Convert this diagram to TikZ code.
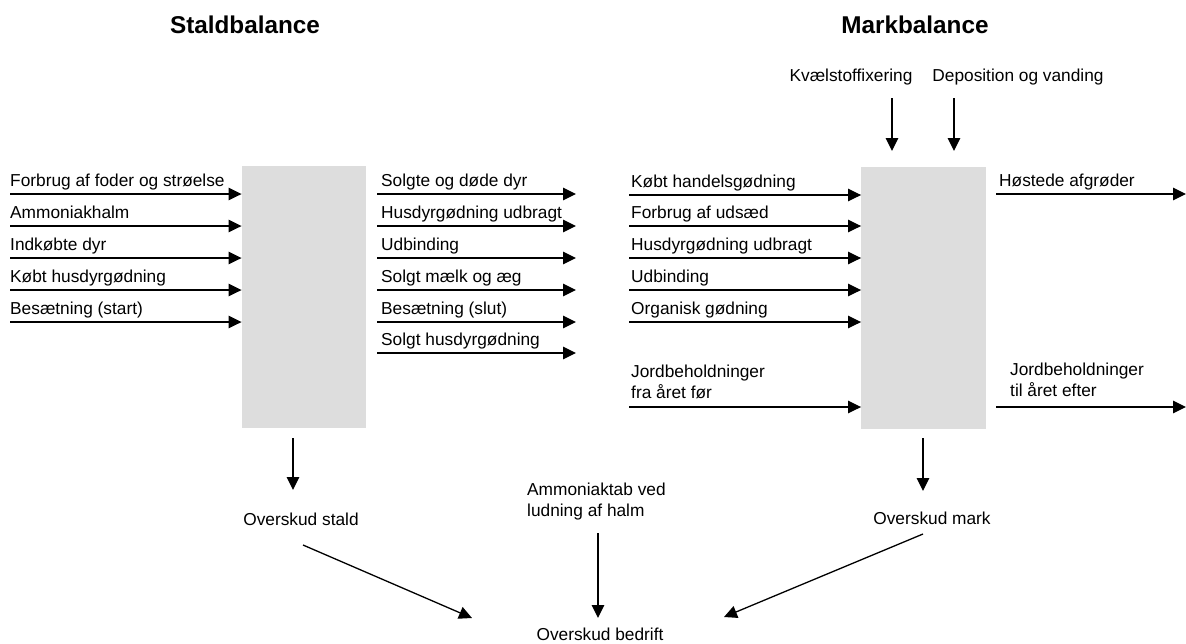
\documentclass[tikz,border=0pt]{standalone}
\usepackage{fontspec}
\setmainfont{Liberation Sans}
\usetikzlibrary{arrows.meta,positioning}
\definecolor{boxgray}{RGB}{221,221,221}
\tikzset{%
	balance/.style   = {fill=boxgray, rectangle, minimum width=124.5pt, minimum height=262pt, inner sep=0pt}, % Box
	flowlabel/.style = {anchor=base west, inner sep=0pt, align=left, font=\fontsize{17.3}{21}\selectfont}, % Text
	sumlabel/.style  = {anchor=base, inner sep=0pt, font=\fontsize{17.3}{21}\selectfont}, % Centered text
	heading/.style   = {anchor=base, inner sep=0pt, font=\fontsize{24.3}{28}\selectfont\bfseries}, % Title
	flow/.style      = {line width=1.3pt, -{Triangle[length=13pt,width=12.5pt]}},
}

\begin{document}
\begin{tikzpicture}[x=1pt,y=-1pt]
	\useasboundingbox (0,0) rectangle (1186,643);
	\node [heading] (tstald) at (245,33) {Staldbalance};
	\node [heading] (tmark) at (915,33) {Markbalance};
	\node [balance] (stald) at (304,296.5) {};
	\node [balance] (mark) at (923.5,297.5) {};
	
	% stald in
	\node [flowlabel] (si1) at (10,186) {Forbrug af foder og strøelse};
	\node [flowlabel] (si2) at (10,218) {Ammoniakhalm};
	\node [flowlabel] (si3) at (10,250) {Indkøbte dyr};
	\node [flowlabel] (si4) at (10,282) {Købt husdyrgødning};
	\node [flowlabel] (si5) at (10,314) {Besætning (start)};
	\coordinate (a1) at (10,194);
	\coordinate (a2) at (10,226);
	\coordinate (a3) at (10,258);
	\coordinate (a4) at (10,290);
	\coordinate (a5) at (10,322);
	\draw[flow] (a1) -- (a1 -| stald.west);
	\draw[flow] (a2) -- (a2 -| stald.west);
	\draw[flow] (a3) -- (a3 -| stald.west);
	\draw[flow] (a4) -- (a4 -| stald.west);
	\draw[flow] (a5) -- (a5 -| stald.west);
	
	% stald out
	\node [flowlabel] (so1) at (381,186) {Solgte og døde dyr};
	\node [flowlabel] (so2) at (381,218) {Husdyrgødning udbragt};
	\node [flowlabel] (so3) at (381,250) {Udbinding};
	\node [flowlabel] (so4) at (381,282) {Solgt mælk og æg};
	\node [flowlabel] (so5) at (381,314) {Besætning (slut)};
	\node [flowlabel] (so6) at (381,345) {Solgt husdyrgødning};
	\coordinate (b1) at (377,194); \coordinate (c1) at (576,194);
	\coordinate (b2) at (377,226); \coordinate (c2) at (576,226);
	\coordinate (b3) at (377,258); \coordinate (c3) at (576,258);
	\coordinate (b4) at (377,290); \coordinate (c4) at (576,290);
	\coordinate (b5) at (377,322); \coordinate (c5) at (576,322);
	\coordinate (b6) at (377,353); \coordinate (c6) at (576,353);
	\draw[flow] (b1) -- (c1);
	\draw[flow] (b2) -- (c2);
	\draw[flow] (b3) -- (c3);
	\draw[flow] (b4) -- (c4);
	\draw[flow] (b5) -- (c5);
	\draw[flow] (b6) -- (c6);
	
	% mark in
	\node [flowlabel] (mi1) at (631,187) {Købt handelsgødning};
	\node [flowlabel] (mi2) at (631,218) {Forbrug af udsæd};
	\node [flowlabel] (mi3) at (631,250) {Husdyrgødning udbragt};
	\node [flowlabel] (mi4) at (631,282) {Udbinding};
	\node [flowlabel] (mi5) at (631,314) {Organisk gødning};
	\node [flowlabel] (mi6) at (631,398) {Jordbeholdninger\\fra året før};
	\coordinate (d1) at (629,195);
	\coordinate (d2) at (629,226);
	\coordinate (d3) at (629,258);
	\coordinate (d4) at (629,290);
	\coordinate (d5) at (629,322);
	\coordinate (d6) at (629,407);
	\draw[flow] (d1) -- (d1 -| mark.west);
	\draw[flow] (d2) -- (d2 -| mark.west);
	\draw[flow] (d3) -- (d3 -| mark.west);
	\draw[flow] (d4) -- (d4 -| mark.west);
	\draw[flow] (d5) -- (d5 -| mark.west);
	\draw[flow] (d6) -- (d6 -| mark.west);
	
	% mark top and out
	\node [sumlabel] (fix) at (851,81) {Kvælstoffixering};
	\node [sumlabel] (dep) at (1018,81) {Deposition og vanding};
	\coordinate (e1) at (892,98); \coordinate (f1) at (892,151);
	\coordinate (e2) at (954,98); \coordinate (f2) at (954,151);
	\draw[flow] (e1) -- (f1);
	\draw[flow] (e2) -- (f2);
	\node [flowlabel] (mo1) at (999,186) {Høstede afgrøder};
	\node [flowlabel] (mo2) at (1010,396) {Jordbeholdninger\\til året efter};
	\coordinate (g1) at (996,194); \coordinate (h1) at (1186,194);
	\coordinate (g2) at (996,407); \coordinate (h2) at (1186,407);
	\draw[flow] (g1) -- (h1);
	\draw[flow] (g2) -- (h2);
	
	% surplus
	\node [sumlabel] (ostald) at (301,525) {Overskud stald};
	\node [sumlabel] (omark) at (932,524) {Overskud mark};
	\node [flowlabel] (amm) at (527,516) {Ammoniaktab ved\\ludning af halm};
	\node [sumlabel] (obedrift) at (600,640) {Overskud bedrift};
	\coordinate (k1) at (293,438); \coordinate (l1) at (293,490);
	\coordinate (k2) at (923,438); \coordinate (l2) at (923,491);
	\coordinate (k3) at (598,533); \coordinate (l3) at (598,618);
	\coordinate (m1) at (303,545); \coordinate (n1) at (472,618);
	\coordinate (m2) at (923,534); \coordinate (n2) at (724,617);
	\draw[flow] (k1) -- (l1);
	\draw[flow] (k2) -- (l2);
	\draw[flow] (k3) -- (l3);
	\draw[flow] (m1) -- (n1);
	\draw[flow] (m2) -- (n2);
\end{tikzpicture}
\end{document}
